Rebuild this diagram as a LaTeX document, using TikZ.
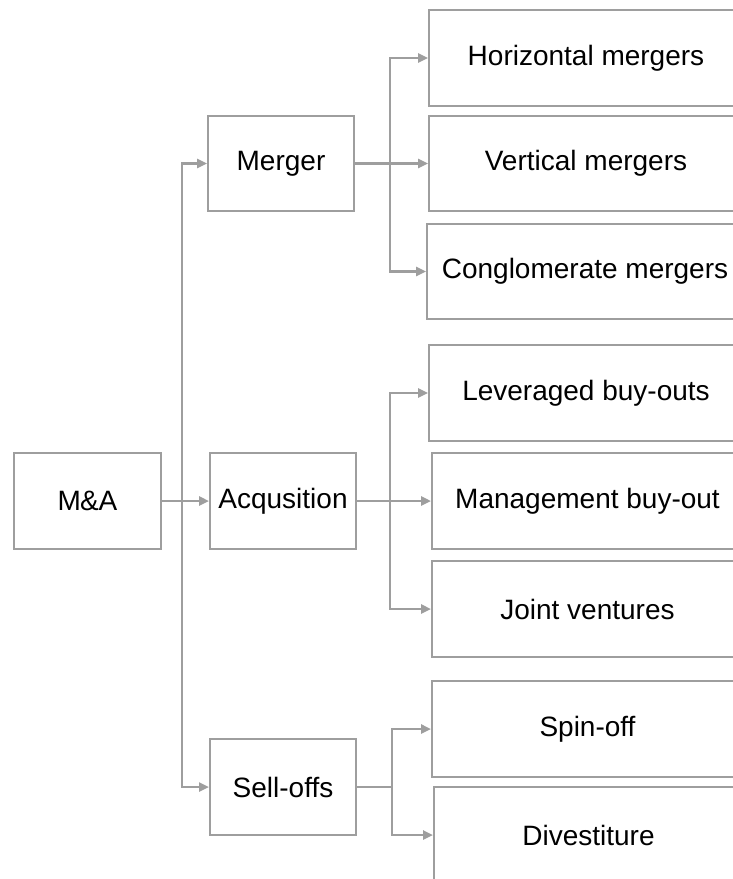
\documentclass[tikz,border=0pt]{standalone}
\usepackage{fontspec}
\setmainfont{Liberation Sans}
\usetikzlibrary{arrows.meta}
\definecolor{linegray}{RGB}{158,158,158}
\begin{document}
\begin{tikzpicture}[x=1bp,y=-1bp,
  box/.style={draw=linegray, line width=2bp, inner sep=0pt,
    font=\fontsize{28bp}{30bp}\selectfont, text=black},
  smallbox/.style={box, minimum width=146bp, minimum height=96bp},
  bigbox/.style={box, minimum height=96bp},
  link/.style={draw=linegray, line width=2.4bp},
  arr/.style={link, -{Triangle[length=10bp,width=9bp]}}]
\useasboundingbox (0,0) rectangle (733,879);
\clip (0,0) rectangle (733,879);

% first and second level
\node[smallbox, minimum width=147bp] (ma) at (87.5,501) {M\kern-1bp\&A};
\node[smallbox, minimum height=95bp] (merger) at (281,163.5) {Merger};
\node[smallbox] (acq) at (283,501) {Acqusition};
\node[smallbox] (sell) at (283,787) {Sell-offs};

% third level
\node[bigbox, minimum width=314bp] (hor) at (586,58) {Horizontal mergers};
\node[bigbox, minimum width=314bp, minimum height=95bp] (ver) at (586,163.5) {Vertical mergers};
\node[bigbox, minimum width=316bp, minimum height=95bp] (con) at (585,271.5) {Conglomerate mergers};
\node[bigbox, minimum width=314bp] (lev) at (586,393) {Leveraged buy-outs};
\node[bigbox, minimum width=311bp] (mgt) at (587.5,501) {Management buy-out};
\node[bigbox, minimum width=311bp] (jv) at (587.5,609) {Joint ventures};
\node[bigbox, minimum width=311bp] (spin) at (587.5,729) {Spin-off};
\node[bigbox, minimum width=309bp] (div) at (588.5,835) {Divestiture};

% trunk positions
\coordinate (t0) at (182,501);
\coordinate (t1) at (390,163.5);
\coordinate (t2) at (390,501);
\coordinate (t3) at (392,787);

% M&A branches
\draw[arr] (ma.east) -- (acq.west);
\draw[arr] (t0) |- (merger.west);
\draw[arr] (t0) |- (sell.west);

% Merger branches
\draw[link] (merger.east) -- (t1);
\draw[arr] (t1) |- (hor.west);
\draw[arr] (t1) -- (ver.west);
\draw[arr] (t1) |- (con.west);

% Acquisition branches
\draw[link] (acq.east) -- (t2);
\draw[arr] (t2) |- (lev.west);
\draw[arr] (t2) -- (mgt.west);
\draw[arr] (t2) |- (jv.west);

% Sell-offs branches
\draw[link] (sell.east) -- (t3);
\draw[arr] (t3) |- (spin.west);
\draw[arr] (t3) |- (div.west);
\end{tikzpicture}
\end{document}
